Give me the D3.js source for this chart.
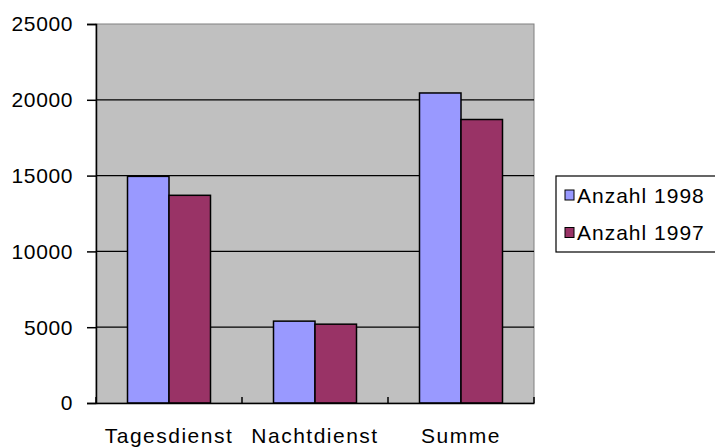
<!DOCTYPE html>
<meta charset="utf-8">
<style>
body { margin: 0; background: #fff; }
text { font-family: "Liberation Sans", Arial, sans-serif; fill: #000; }
</style>
<body>
<script src="https://cdn.jsdelivr.net/npm/d3@7"></script>
<script>

// data
var categories = ["Tagesdienst", "Nachtdienst", "Summe"];
var seriesNames = ["Anzahl 1998", "Anzahl 1997"];
var values1998 = [14950, 5400, 20450];
var values1997 = [13700, 5200, 18700];
var yTicks = [0, 5000, 10000, 15000, 20000, 25000];
var colors = ["#9999ff", "#993366"];

var W = 715, H = 448;
var plot = {left: 96, right: 534, top: 24, bottom: 403};

var svg = d3.select("body").append("svg")
    .attr("width", W)
    .attr("height", H);

var x = d3.scaleBand()
    .domain(categories)
    .range([plot.left, plot.right]);

var xs = d3.scaleBand()
    .domain(seriesNames)
    .range([31.5, x.bandwidth() - 31.5]);

var y = d3.scaleLinear()
    .domain([0, 25000])
    .range([plot.bottom, plot.top]);

// plot background
svg.append("rect")
    .attr("x", plot.left)
    .attr("y", plot.top)
    .attr("width", plot.right - plot.left)
    .attr("height", plot.bottom - plot.top)
    .attr("fill", "#c0c0c0")
    .attr("stroke", "#808080")
    .attr("stroke-width", 1);

// gridlines
svg.selectAll(".grid")
    .data(yTicks.filter(function(d) { return d > 0 && d < 25000; }))
    .enter().append("line")
    .attr("x1", plot.left)
    .attr("x2", plot.right)
    .attr("y1", function(d) { return y(d); })
    .attr("y2", function(d) { return y(d); })
    .attr("stroke", "#000")
    .attr("stroke-width", 1.2);

// bars
var rows = categories.map(function(c, i) {
  return [
    {cat: c, s: seriesNames[0], v: values1998[i], col: colors[0]},
    {cat: c, s: seriesNames[1], v: values1997[i], col: colors[1]}
  ];
});

svg.selectAll(".grp")
    .data(rows)
    .enter().append("g")
    .attr("transform", function(d) { return "translate(" + x(d[0].cat) + ",0)"; })
  .selectAll("rect")
    .data(function(d) { return d; })
    .enter().append("rect")
    .attr("x", function(d) { return xs(d.s); })
    .attr("width", xs.bandwidth())
    .attr("y", function(d) { return y(d.v); })
    .attr("height", function(d) { return y(0) - y(d.v); })
    .attr("fill", function(d) { return d.col; })
    .attr("stroke", "#000")
    .attr("stroke-width", 1.5);

// y axis
var yAxis = svg.append("g")
    .attr("transform", "translate(" + plot.left + ",0)")
    .call(d3.axisLeft(y).tickValues(yTicks).tickSize(9).tickPadding(14).tickFormat(d3.format("d")));
yAxis.select(".domain").attr("stroke", "#000").attr("stroke-width", 1.5);
yAxis.selectAll(".tick line").attr("stroke", "#000").attr("stroke-width", 1.5);
yAxis.selectAll(".tick text")
    .attr("font-size", "21px")
    .attr("font-family", "Liberation Sans, Arial, sans-serif")
    .attr("dy", "0.33em")
    .style("letter-spacing", "0.6px");

// x axis
var xAxis = svg.append("g")
    .attr("transform", "translate(0," + plot.bottom + ")")
    .call(d3.axisBottom(x).tickSize(0).tickPadding(25));
xAxis.select(".domain").attr("stroke", "#000").attr("stroke-width", 1.5);
xAxis.selectAll(".tick text")
    .attr("font-size", "21px")
    .attr("font-family", "Liberation Sans, Arial, sans-serif")
    .style("letter-spacing", "1.5px");

// category boundary ticks
var bounds = categories.map(function(c) { return x(c); }).concat([plot.right]);
svg.selectAll(".ctick")
    .data(bounds)
    .enter().append("line")
    .attr("x1", function(d) { return d; })
    .attr("x2", function(d) { return d; })
    .attr("y1", plot.bottom - 6)
    .attr("y2", plot.bottom)
    .attr("stroke", "#000")
    .attr("stroke-width", 1.5);

// legend
var lg = svg.append("g");
lg.append("rect")
    .attr("x", 556)
    .attr("y", 176)
    .attr("width", 170)
    .attr("height", 76)
    .attr("fill", "#fff")
    .attr("stroke", "#000")
    .attr("stroke-width", 1.2);

var items = lg.selectAll(".item")
    .data(seriesNames)
    .enter().append("g")
    .attr("transform", function(d, i) { return "translate(565," + (190 + i * 37.5) + ")"; });
items.append("rect")
    .attr("width", 9)
    .attr("height", 10)
    .attr("fill", function(d, i) { return colors[i]; })
    .attr("stroke", "#000")
    .attr("stroke-width", 1);
items.append("text")
    .attr("x", 12)
    .attr("y", 12.5)
    .attr("font-size", "21px")
    .style("letter-spacing", "1px")
    .text(function(d) { return d; });

</script>
</body>
